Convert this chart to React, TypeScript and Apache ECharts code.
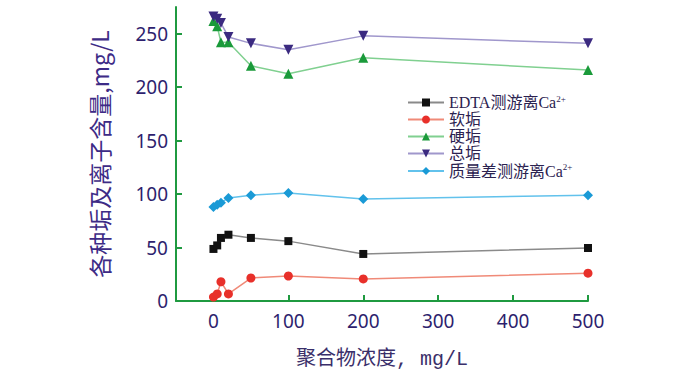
import React, { useEffect, useRef } from "react";
import * as echarts from "echarts";

const concentrations = [0, 5, 10, 20, 50, 100, 200, 500];
const edtaCa = [48.7, 52, 59, 62, 59, 56, 44, 49.6];
const softScale = [3.7, 6.6, 18, 6.6, 21.5, 23.4, 20.6, 26];
const hardScale = [262, 257, 242, 242, 220, 212.5, 227.5, 216];
const totalScale = [266, 264, 260, 247, 241, 235, 248, 241];
const massDiffCa = [88, 90, 92, 96.4, 99, 101, 95.5, 99];

const xTicks = [0, 100, 200, 300, 400, 500];
const yTicks = [0, 50, 100, 150, 200, 250];

const seriesNames = ["EDTA测游离Ca", "软垢", "硬垢", "总垢", "质量差测游离Ca"];

const pairs = (vals: number[]) => concentrations.map((x, i) => [x, vals[i]]);

export default function App() {
  const ref = useRef<HTMLDivElement>(null);
  useEffect(() => {
    if (!ref.current) return;
    const chart = echarts.init(ref.current, null, { renderer: "svg" });
    const axisGreen = "#1f9a40";
    const labelColor = "#2e1f6e";
    const mk = (
      name: string,
      vals: number[],
      symbol: string,
      size: number,
      markerColor: string,
      lineColor: string,
      rotate = 0
    ) => ({
      name,
      type: "line",
      data: pairs(vals),
      symbol,
      symbolSize: size,
      symbolRotate: rotate,
      itemStyle: { color: markerColor },
      lineStyle: { color: lineColor, width: 1.5 },
      z: 3,
    });
    chart.setOption({
      animation: false,
      grid: { left: 176, right: 95, top: 7, bottom: 77 },
      legend: {
        orient: "vertical",
        left: 402,
        top: 89,
        itemWidth: 36,
        itemHeight: 10,
        itemGap: 1,
        data: seriesNames,
        formatter: (name: string) =>
          name.endsWith("Ca") ? `{t|${name}}{s|2+}` : `{t|${name}}`,
        textStyle: {
          rich: {
            t: {
              fontFamily: "Liberation Serif, Noto Sans CJK SC",
              fontSize: 16,
              color: "#2b2250",
              lineHeight: 17,
            },
            s: {
              fontFamily: "Liberation Serif",
              fontSize: 9,
              color: "#2b2250",
              lineHeight: 17,
              verticalAlign: "top",
            },
          },
        },
      },
      xAxis: {
        type: "value",
        min: -50,
        max: 500,
        name: "聚合物浓度, mg/L",
        nameLocation: "middle",
        nameGap: 48,
        nameTextStyle: {
          fontFamily: "Liberation Mono, Noto Sans CJK SC",
          fontSize: 20,
          color: "#3a2f6a",
        },
        axisLine: { show: true, onZero: false, lineStyle: { color: axisGreen, width: 2 } },
        axisTick: { show: true, inside: true, length: 6, customValues: xTicks, lineStyle: { color: axisGreen, width: 2 } },
        axisLabel: {
          customValues: xTicks,
          color: labelColor,
          fontSize: 19,
          fontFamily: "Noto Sans",
          margin: 10,
        },
        splitLine: { show: false },
      },
      yAxis: {
        type: "value",
        min: 0,
        max: 275,
        name: "各种垢及离子含量,mg/L",
        nameLocation: "middle",
        nameGap: 66,
        nameTextStyle: {
          fontFamily: "Noto Sans CJK SC",
          fontSize: 23,
          color: "#3d2b86",
        },
        axisLine: { show: true, onZero: false, lineStyle: { color: axisGreen, width: 2 } },
        axisTick: { show: true, inside: true, length: 6, customValues: yTicks, lineStyle: { color: axisGreen, width: 2 } },
        axisLabel: {
          customValues: yTicks,
          color: labelColor,
          fontSize: 19,
          fontFamily: "Noto Sans",
          margin: 8,
        },
        splitLine: { show: false },
      },
      series: [
        mk(seriesNames[0], edtaCa, "rect", 8, "#111111", "#8a8a8a"),
        mk(seriesNames[1], softScale, "circle", 9, "#e8302a", "#f08a78"),
        mk(seriesNames[2], hardScale, "triangle", 10, "#1a9a3a", "#80d090"),
        mk(seriesNames[3], totalScale, "triangle", 10, "#3b2a80", "#a097cc", 180),
        mk(seriesNames[4], massDiffCa, "diamond", 10, "#1a9ad6", "#62c2ec"),
      ],
    });
    return () => chart.dispose();
  }, []);
  return (
    <div
      ref={ref}
      style={{ position: "fixed", left: 0, top: 0, width: 683, height: 378, background: "#ffffff" }}
    />
  );
}
